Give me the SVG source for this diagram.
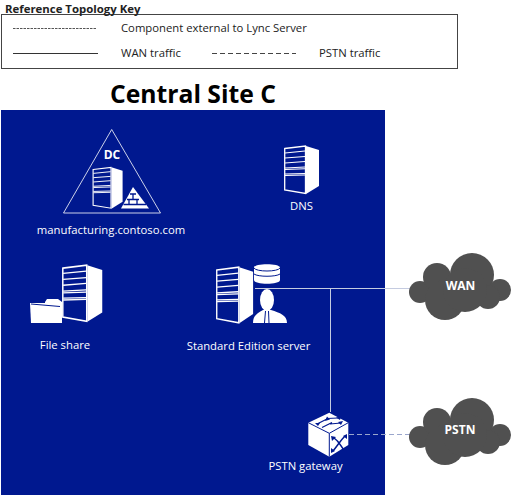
<svg xmlns="http://www.w3.org/2000/svg" width="513" height="495" viewBox="0 0 513 495">
<style>
text{font-family:"Open Sans","Noto Sans","Liberation Sans",sans-serif}
.k{font-size:11.300px;fill:#222}
.l{font-size:11.300px;fill:#fff;text-anchor:middle}
.b{font-weight:700}
.w{fill:#fff}
.o{fill:none;stroke:#fff}
.c{fill:#505050}
.cn{fill:none;stroke:#c4cbe0;stroke-width:1}
.n{fill:none;stroke:#00188f}
</style>
<defs>
<g id="srv">
<path class="w" d="M22 1 L35 5 L35 41 L22 49 Z"/>
<path d="M0.7 3.500 L21.500 1 L21.500 48.500 L0.7 45 Z" fill="#00188f" stroke="#fff" stroke-width="1.300"/>
<path class="o" stroke-width="1.100" d="M1 8 L21 6 M1 13 L21 11.500 M1 18 L21 16.500 M1 23 L21 22 M1 24.500 L21 23.800 M1 29 L21 28.500 M1 30.500 L21 30"/>
</g>
<g id="cld">
<circle class="c" cx="20" cy="36" r="11"/>
<circle class="c" cx="37" cy="21" r="14"/>
<circle class="c" cx="72" cy="19" r="22"/>
<circle class="c" cx="100" cy="34" r="11"/>
<circle class="c" cx="45" cy="44" r="20"/>
<circle class="c" cx="88" cy="41" r="12"/>
<circle class="c" cx="65" cy="34" r="22"/>
</g>
</defs>

<g id="key">
<rect x="1.500" y="14.500" width="456" height="54" fill="#fff" stroke="#444"/>
<text class="k b" x="5" y="12.500" style="font-size:11.400px" fill="#000">Reference Topology Key</text>
<line x1="13" y1="28.500" x2="97" y2="28.500" stroke="#555" stroke-dasharray="2.500 1"/>
<text class="k" x="121" y="31.500">Component external to Lync Server</text>
<line x1="13" y1="53.500" x2="98" y2="53.500" stroke="#333"/>
<text class="k" x="121" y="57">WAN traffic</text>
<line x1="212" y1="53.500" x2="296" y2="53.500" stroke="#444" stroke-dasharray="5 3"/>
<text class="k" x="319" y="57">PSTN traffic</text>
</g>

<text id="title" x="110" y="103" font-size="24.700" font-weight="700" fill="#000">Central Site C</text>
<rect id="site" x="1" y="110" width="384" height="385" fill="#00188f"/>

<g id="connectors">
<path class="cn" d="M255 288.500H412M330.500 288.500V412"/>
<path class="cn" d="M349 434.500H412" stroke-dasharray="5 3" style="stroke:#9aa6cc"/>
</g>

<g id="dc">
<path d="M111.700 129.500L63.500 213H160.500Z" fill="none" stroke="#fff" stroke-width="0.800"/>
<text x="112" y="159" font-size="12" font-weight="700" fill="#fff" text-anchor="middle">DC</text>
<use href="#srv" transform="translate(92.500,166.500) scale(0.860,0.860)"/>
<path class="w" d="M133 187L149 208.500H121Z"/>
<path class="n" stroke-width="1.300" d="M127 199.500H139M123.500 204.500H146M130 194H136M133 194V199.500M129 199.500V204.500M137 199.500V204.500"/>
<text class="l" x="111" y="234">manufacturing.contoso.com</text>
</g>

<g id="dns">
<use href="#srv" transform="translate(284,145)"/>
<text class="l" x="301.500" y="210">DNS</text>
</g>

<g id="fileshare">
<use href="#srv" transform="translate(62,264) scale(1.150,1.180)"/>
<path class="w" d="M45 302L47 299H58L62 302V314H45Z"/>
<path class="w" d="M30 303H62V323H31Z"/>
<path class="n" d="M31 304L60 306.500"/>
<text class="l" x="65" y="349">File share</text>
</g>

<g id="se">
<use href="#srv" transform="translate(216,266) scale(1.060,1.170)"/>
<path class="w" d="M254 267.500C254 263 280 263 280 267.500V280C280 285 254 285 254 280Z"/>
<path class="n" d="M254 268C256 272 278 272 280 268M254 274C258 277 276 277 280 274"/>
<ellipse class="w" cx="267" cy="300" rx="7" ry="11"/>
<path class="w" d="M253 323C253 315 258 313 263 310L271 310C280 313 287 315 287 323Z"/>
<path class="n" d="M265.500 311L264.500 323M268.500 311L269 323"/>
<text class="l" x="248.500" y="350">Standard Edition server</text>
</g>

<g id="gateway">
<path class="w" d="M329.300 412.700L308.300 422.700V445L329.300 456.700L348.300 445V422.700Z"/>
<path class="n" d="M308.300 422.700L329.300 433.300L348.300 422.700M329.300 433.300V456.700"/>
<path class="n" stroke-width="1.200" d="M317 424L327 419M322 427.500L332 422.500M327 418.500L338 418M330 424L341 423"/>
<path d="M327 416.500L330 419.500L325 421ZM315 423L320 423L318 426ZM341 416.500L340 420L336 417.500ZM343 421L341 425L338 422Z" fill="#00188f"/>
<path class="n" stroke-width="1.500" d="M334 438C340 442 340 446 345 451M345 436C340 441 338 445 333 451"/>
<path d="M331 436L336 437L332 441ZM347 434L347 439L343 436ZM331 453L331 448L335 451ZM347 453L343 451L346 448Z" fill="#00188f"/>
<text class="l" x="305.500" y="470">PSTN gateway</text>
</g>

<g id="wan">
<use href="#cld" transform="translate(400,256)"/>
<text x="460.500" y="289.500" font-size="12" font-weight="700" fill="#fff" text-anchor="middle">WAN</text>
</g>
<g id="pstn">
<use href="#cld" transform="translate(400,401)"/>
<text x="460" y="434" font-size="12" font-weight="700" fill="#fff" text-anchor="middle">PSTN</text>
</g>
</svg>
